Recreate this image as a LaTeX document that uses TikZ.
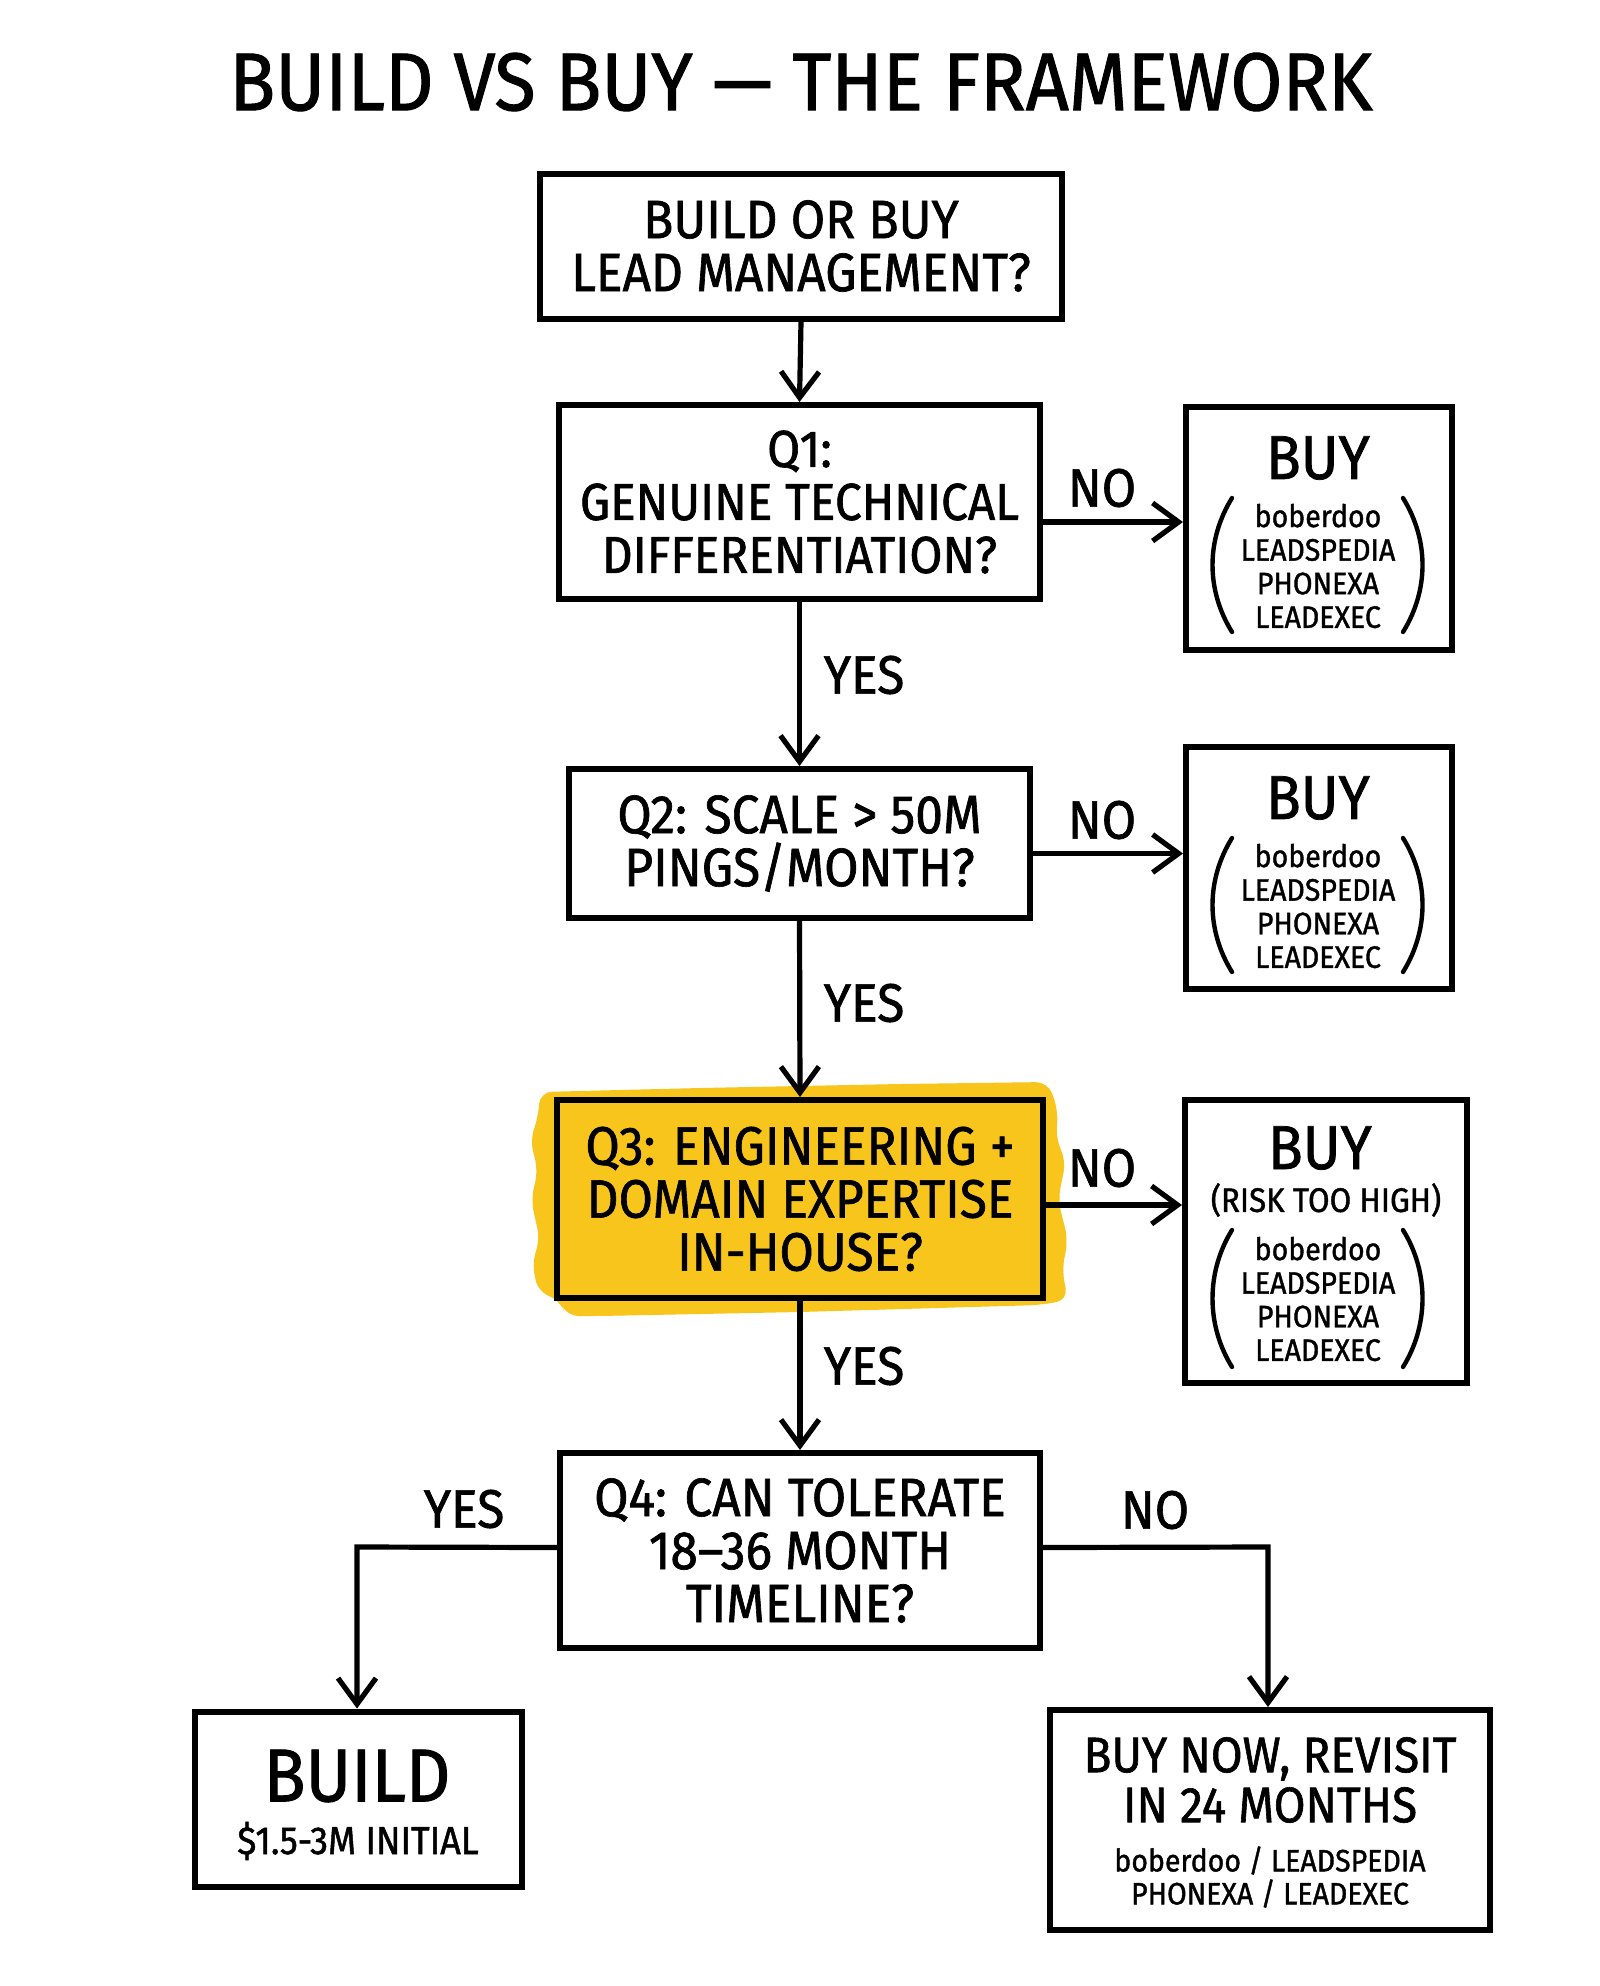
\documentclass[tikz,border=0pt]{standalone}
\usepackage{fontspec}
\setmainfont{Fira Sans}[FakeStretch=0.92,FakeBold=1.2]
\usetikzlibrary{arrows.meta}
\definecolor{hl}{HTML}{F8C51C}
\newcommand\fz[2]{\fontsize{#1}{#2}\selectfont}
\tikzset{
  box/.style={draw, line width=3pt, inner sep=0pt, align=center},
  arr/.style={line width=2.6pt, -{Straight Barb[length=13pt,width=19pt,line width=2.6pt]}},
  lbl/.style={inner sep=0pt, font=\fz{27}{30}},
  paren/.style={line width=2.2pt, line cap=round},
  txt/.style={inner sep=0pt, align=center},
  qtxt/.style={font=\fz{27}{26.5}},
  list/.style={txt, font=\fz{15.5}{16.8}}
}
\begin{document}
\begin{tikzpicture}[x=0.5pt,y=-0.5pt]
\useasboundingbox[fill=white] (0,0) rectangle (1600,1986);

% title
\node[txt, font=\fz{41}{46}] (title) at (801,82) {BUILD VS BUY — THE FRAMEWORK};

% yellow highlight
\fill[hl, rounded corners=6pt] (540,1092) -- (700,1088) -- (900,1084) -- (1048,1082) -- (1058,1110) -- (1056,1140) -- (1066,1160) -- (1058,1200) -- (1068,1240) -- (1062,1270) -- (1068,1300) -- (1040,1305) -- (800,1312) -- (600,1316) -- (566,1316) -- (560,1300) -- (538,1292) -- (532,1262) -- (540,1240) -- (531,1200) -- (538,1170) -- (530,1140) -- (538,1118) -- cycle;

% main boxes
\node[box, qtxt, minimum width=261pt, minimum height=72.5pt] (B0) at (801,246) {BUILD OR BUY\\LEAD MANAGEMENT?};
\node[box, font=\fz{26}{26.5}, minimum width=240.5pt, minimum height=97pt] (Q1) at (799.5,502) {Q1:\\GENUINE TECHNICAL\\DIFFERENTIATION?};
\node[box, qtxt, minimum width=230.5pt, minimum height=74.5pt] (Q2) at (799.5,843.5) {Q2: SCALE > 50M\\PINGS/MONTH?};
\node[box, qtxt, minimum width=243pt, minimum height=99pt] (Q3) at (800,1199) {Q3: ENGINEERING +\\DOMAIN EXPERTISE\\IN-HOUSE?};
\node[box, qtxt, minimum width=240pt, minimum height=97.5pt] (Q4) at (800,1550.5) {Q4: CAN TOLERATE\\18–36 MONTH\\TIMELINE?};

% BUY 1
\node[box, minimum width=133pt, minimum height=121.5pt] (BUY1) at (1319,528.5) {};
\node[txt, font=\fz{31}{31}] (BUY1t) at (1318,458) {BUY};
\node[list] (BUY1l) at (1318,566) {boberdoo\\LEADSPEDIA\\PHONEXA\\LEADEXEC};
\draw[paren] (1232,498) .. controls (1206,540) and (1206,590) .. (1232,632);
\draw[paren] (1403,498) .. controls (1429,540) and (1429,590) .. (1403,632);

% BUY 2
\node[box, minimum width=133pt, minimum height=121pt] (BUY2) at (1319,867.5) {};
\node[txt, font=\fz{31}{31}] (BUY2t) at (1318,798) {BUY};
\node[list] (BUY2l) at (1318,906) {boberdoo\\LEADSPEDIA\\PHONEXA\\LEADEXEC};
\draw[paren] (1232,838) .. controls (1206,880) and (1206,930) .. (1232,972);
\draw[paren] (1403,838) .. controls (1429,880) and (1429,930) .. (1403,972);

% BUY 3
\node[box, minimum width=141pt, minimum height=141.5pt] (BUY3) at (1326,1241.5) {};
\node[txt, font=\fz{31}{31}] (BUY3t) at (1320,1148) {BUY};
\node[txt, font=\fz{17}{17}] (BUY3r) at (1326,1200) {(RISK TOO HIGH)};
\node[list] (BUY3l) at (1318,1299) {boberdoo\\LEADSPEDIA\\PHONEXA\\LEADEXEC};
\draw[paren] (1232,1230) .. controls (1206,1272) and (1206,1325) .. (1232,1367);
\draw[paren] (1403,1230) .. controls (1429,1272) and (1429,1325) .. (1403,1367);

% BUILD
\node[box, minimum width=163.5pt, minimum height=87.5pt] (BUILD) at (358.5,1799) {};
\node[txt, font=\fz{37.5}{38}] (BUILDt) at (357,1776) {BUILD};
\node[txt, font=\fz{19.5}{20}] (BUILDs) at (358,1841) {\$1.5-3M INITIAL};

% BUY NOW
\node[box, minimum width=220pt, minimum height=110pt] (BN) at (1270,1820) {};
\node[txt, font=\fz{25}{25}] (BNt) at (1270,1780) {BUY NOW, REVISIT\\IN 24 MONTHS};
\node[txt, font=\fz{15.5}{16.5}] (BNs) at (1270,1877) {boberdoo / LEADSPEDIA\\PHONEXA / LEADEXEC};

% connectors
\draw[arr] (B0.south) -- (Q1.north);
\draw[arr] (Q1.south) -- (Q2.north);
\draw[arr] (Q2.south) -- (Q3.north);
\draw[arr] (Q3.south) -- (Q4.north);

\draw[arr] ([yshift=-10pt]Q1.east) -- ([yshift=-10pt]Q1.east -| BUY1.west);
\draw[arr] ([yshift=-5pt]Q2.east) -- ([yshift=-5pt]Q2.east -| BUY2.west);
\draw[arr] ([yshift=-3pt]Q3.east) -- ([yshift=-3pt]Q3.east -| BUY3.west);

\coordinate (yl) at (357,1547);
\coordinate (nr) at (1268,1547);
\draw[arr] ([yshift=1.5pt]Q4.west) -- (yl) -- (BUILD.north -| yl);
\draw[arr] ([yshift=1.5pt]Q4.east) -- (nr) -- (BN.north -| nr);

% labels
\node[lbl] (y1) at (864,675) {YES};
\node[lbl] (y2) at (864,1003) {YES};
\node[lbl] (y3) at (864,1366) {YES};
\node[lbl] (n1) at (1102,488) {NO};
\node[lbl] (n2) at (1102,820) {NO};
\node[lbl] (n3) at (1102,1168) {NO};
\node[lbl] (y4) at (464,1509) {YES};
\node[lbl] (n4) at (1155,1510) {NO};
\end{tikzpicture}
\end{document}
